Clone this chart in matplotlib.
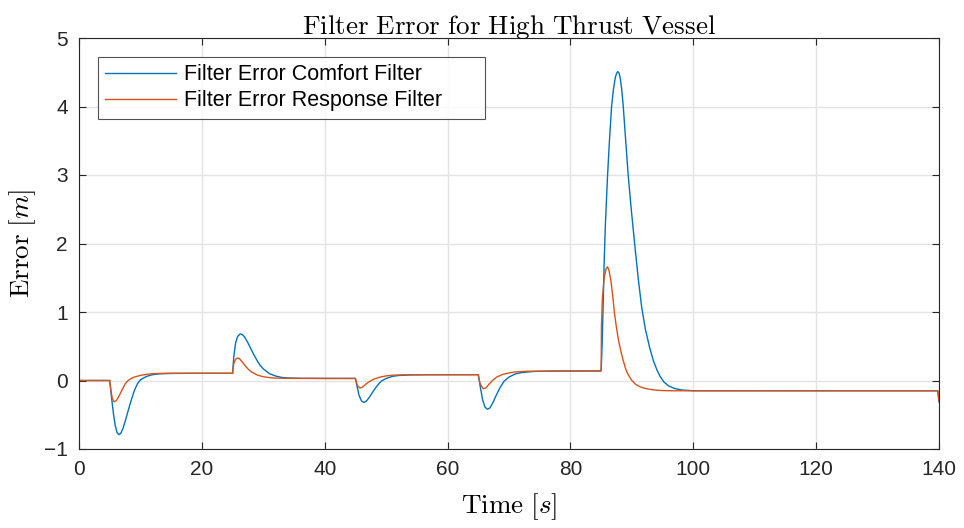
import matplotlib
matplotlib.use("Agg")
import matplotlib.pyplot as plt

# ---- data ----
t_comfort = [0, 5.0, 5.3, 5.6, 5.9, 6.2, 6.5, 6.8, 7.2, 7.6, 8.0, 8.5, 9.0, 9.5, 10, 11, 12, 13, 15, 18, 25.0,
             25.2, 25.5, 25.8, 26.2, 26.6, 27.0, 27.5, 28, 28.5, 29, 29.5, 30, 31, 32, 33, 34, 36, 40, 45.0,
             45.3, 45.6, 46.0, 46.4, 46.8, 47.3, 47.8, 48.5, 49.2, 50, 51, 52, 54, 57, 65.0,
             65.3, 65.7, 66.1, 66.5, 66.9, 67.4, 67.9, 68.5, 69.2, 70, 71, 72, 74, 77, 85.0,
             85.15, 85.3, 85.5, 85.7, 86.05, 86.35, 86.7, 87.0, 87.3, 87.5, 87.7, 87.9, 88.1, 88.35, 88.6, 89.0,
             89.4, 89.9, 90.45, 91.05, 91.6, 92.2, 92.9, 93.5, 94.1, 94.6, 95.2, 96.0, 97.0, 98.2, 100, 139.8, 140]
e_comfort = [0, 0, -0.25, -0.48, -0.66, -0.76, -0.79, -0.77, -0.69, -0.57, -0.44, -0.29, -0.15, -0.05, 0.01, 0.06, 0.085, 0.097, 0.103, 0.105, 0.105,
             0.35, 0.55, 0.64, 0.68, 0.67, 0.63, 0.55, 0.46, 0.37, 0.29, 0.22, 0.17, 0.10, 0.065, 0.045, 0.037, 0.032, 0.03, 0.03,
             -0.10, -0.22, -0.30, -0.32, -0.30, -0.24, -0.17, -0.08, -0.01, 0.03, 0.06, 0.073, 0.082, 0.085, 0.085,
             -0.08, -0.28, -0.39, -0.42, -0.40, -0.32, -0.22, -0.11, -0.01, 0.05, 0.095, 0.115, 0.132, 0.138, 0.14,
             0.5, 1.0, 1.76, 2.3, 3.0, 3.5, 4.0, 4.25, 4.42, 4.48, 4.51, 4.49, 4.42, 4.25, 4.0, 3.5,
             3.0, 2.5, 2.0, 1.48, 1.07, 0.75, 0.48, 0.29, 0.15, 0.06, -0.02, -0.08, -0.118, -0.14, -0.149, -0.15, -0.31]

t_response = [0, 5.0, 5.2, 5.4, 5.6, 5.8, 6.1, 6.5, 7.0, 7.5, 8.0, 8.5, 9.0, 10, 11, 12, 14, 25.0,
              25.2, 25.5, 25.8, 26.1, 26.5, 27, 27.5, 28, 29, 30, 31, 32, 34, 45.0,
              45.3, 45.7, 46.1, 46.6, 47.2, 48, 49, 50, 51, 53, 65.0,
              65.3, 65.8, 66.2, 66.7, 67.3, 68, 69, 70, 71, 73, 85.0,
              85.05, 85.2, 85.5, 85.8, 86.05, 86.3, 86.6, 86.9, 87.15, 87.45, 87.8, 88.2, 88.6, 89.1, 89.5, 90.0,
              90.6, 91.3, 92.2, 93.3, 94.8, 96.5, 139.8, 140]
e_response = [0, 0, -0.15, -0.25, -0.30, -0.31, -0.29, -0.23, -0.14, -0.05, 0.0, 0.03, 0.05, 0.075, 0.09, 0.10, 0.105, 0.105,
              0.25, 0.31, 0.33, 0.32, 0.28, 0.22, 0.17, 0.13, 0.08, 0.055, 0.042, 0.035, 0.031, 0.03,
              -0.07, -0.11, -0.10, -0.06, -0.02, 0.02, 0.05, 0.067, 0.077, 0.083, 0.085,
              -0.05, -0.12, -0.11, -0.06, 0.0, 0.05, 0.09, 0.11, 0.125, 0.135, 0.14,
              0.8, 1.2, 1.5, 1.63, 1.66, 1.60, 1.45, 1.22, 1.0, 0.8, 0.6, 0.43, 0.29, 0.14, 0.07, 0.0,
              -0.055, -0.09, -0.117, -0.135, -0.146, -0.15, -0.15, -0.31]

labels = ["Filter Error Comfort Filter", "Filter Error Response Filter"]
x_ticks = [0, 20, 40, 60, 80, 100, 120, 140]
y_ticks = [-1, 0, 1, 2, 3, 4, 5]

plt.rcParams['mathtext.fontset'] = 'cm'
plt.rcParams['font.family'] = ['Liberation Sans', 'DejaVu Sans']

fig = plt.figure(figsize=(9.64, 5.28), dpi=100)
ax = fig.add_axes([79/964, 1-449/528, 860/964, 411/528])

ax.plot(t_comfort, e_comfort, color='#0072BD', lw=1.0, label=labels[0])
ax.plot(t_response, e_response, color='#D95319', lw=1.0, label=labels[1])

ax.set_xlim(0, 140)
ax.set_ylim(-1, 5)
ax.set_xticks(x_ticks)
ax.set_yticks(y_ticks)
ax.grid(True, color='#e3e3e3', lw=1.0)
ax.set_axisbelow(True)
ax.tick_params(direction='in', top=True, right=True, length=5, width=0.8,
               colors='#262626', labelsize=15, labelcolor='#262626', pad=8)
for s in ax.spines.values():
    s.set_color('#262626')
    s.set_linewidth(0.8)

ax.set_title(r'$\mathrm{Filter\ Error\ for\ High\ Thrust\ Vessel}$', fontsize=19.5, pad=3)
ax.set_xlabel(r'$\mathrm{Time}\ [s]$', fontsize=19.5, labelpad=9)
ax.set_ylabel(r'$\mathrm{Error}\ [m]$', fontsize=19.5, labelpad=4)

x0 = (98 - 79) / 860
top = (449 - 57) / 411
w = 387 / 860
leg = ax.legend(loc='upper left', bbox_to_anchor=(x0, 0.5, w, top - 0.5), mode='expand',
                fontsize=15.5, frameon=True, fancybox=False, handlelength=3.3,
                borderaxespad=0, handletextpad=0.37, borderpad=0.33, labelspacing=0.25)
leg.get_frame().set_edgecolor('#262626')
leg.get_frame().set_linewidth(0.8)

fig.savefig('out.png', dpi=100)
